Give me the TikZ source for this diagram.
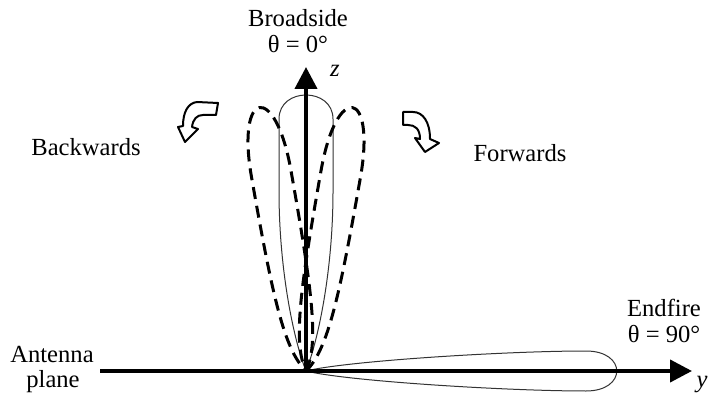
\documentclass[tikz,border=0pt]{standalone}
\usepackage{fontspec}
\setmainfont{Liberation Serif}
\usetikzlibrary{arrows.meta}

\begin{document}
\begin{tikzpicture}[x=0.5pt,y=-0.5pt,font=\fontsize{12.3}{14}\selectfont,
   axis/.style={line width=2pt,-{Triangle[length=11pt,width=11pt]}},
   main/.style={line width=0.5pt,black!80},
   side/.style={line width=1.5pt,dash pattern=on 6pt off 3.5pt},
   turn/.style={line width=1pt,line join=round},
   lbl/.style={anchor=base,inner sep=0pt}]
  \useasboundingbox (0,0) rectangle (710,394);
  \coordinate (O) at (306,371);
  \coordinate (ztip) at (306,67);
  \coordinate (ystart) at (100,371);
  \coordinate (ytip) at (692,371);
  % lobes
  \begin{scope}[shift={(O)}]
    \draw[main] (0,0) .. controls (12,-30) and (27,-100) .. (27,-180) -- (27,-252)
      .. controls (27,-284) and (-27,-284) .. (-27,-252) -- (-27,-180)
      .. controls (-27,-100) and (-12,-30) .. (0,0);
    \draw[main,rotate=-90] (0,0) .. controls (10,-40) and (20,-200) .. (20,-280)
      .. controls (20,-321) and (-20,-321) .. (-20,-280)
      .. controls (-20,-200) and (-10,-40) .. (0,0);
    \foreach \a in {10,-10}
      \draw[side,rotate=\a] (0,0) .. controls (18,-25) and (20,-80) .. (20,-200)
        .. controls (20,-290) and (-20,-290) .. (-20,-200)
        .. controls (-20,-80) and (-18,-25) .. (0,0);
  \end{scope}
  % axes
  \draw[axis] (O) -- (ztip);
  \draw[axis] (ystart) -- (ytip);
  % turning arrows
  \draw[turn] (218,103) -- (197,102) .. controls (188,103) and (183,112) .. (183,126)
    -- (178,127) -- (185,142) -- (198,129) -- (192,127)
    .. controls (193,119) and (197,115) .. (203,115) -- (216,115) -- cycle;
  \draw[turn] (403,112) -- (413,112) .. controls (423,112) and (430,122) .. (430,139)
    -- (439,143) -- (425,152) -- (415,138) -- (420,139)
    .. controls (420,129) and (415,125) .. (408,125) -- (403,125) -- cycle;
  % labels
  \node[lbl] (broadside) at (298,27) {Broadside};
  \node[lbl] (theta0) at (298,53) {θ = 0°};
  \node[lbl] (zlabel) at (335,77) {\textit{z}};
  \node[lbl] (backwards) at (86,156) {Backwards};
  \node[lbl] (forwards) at (520,162) {Forwards};
  \node[lbl] (endfire) at (664,317) {Endfire};
  \node[lbl] (theta90) at (664,343) {θ = 90°};
  \node[lbl] (ylabel) at (702,387) {\textit{y}};
  \node[lbl] (antenna) at (52,362) {Antenna};
  \node[lbl] (plane) at (53,387) {plane};
\end{tikzpicture}
\end{document}
